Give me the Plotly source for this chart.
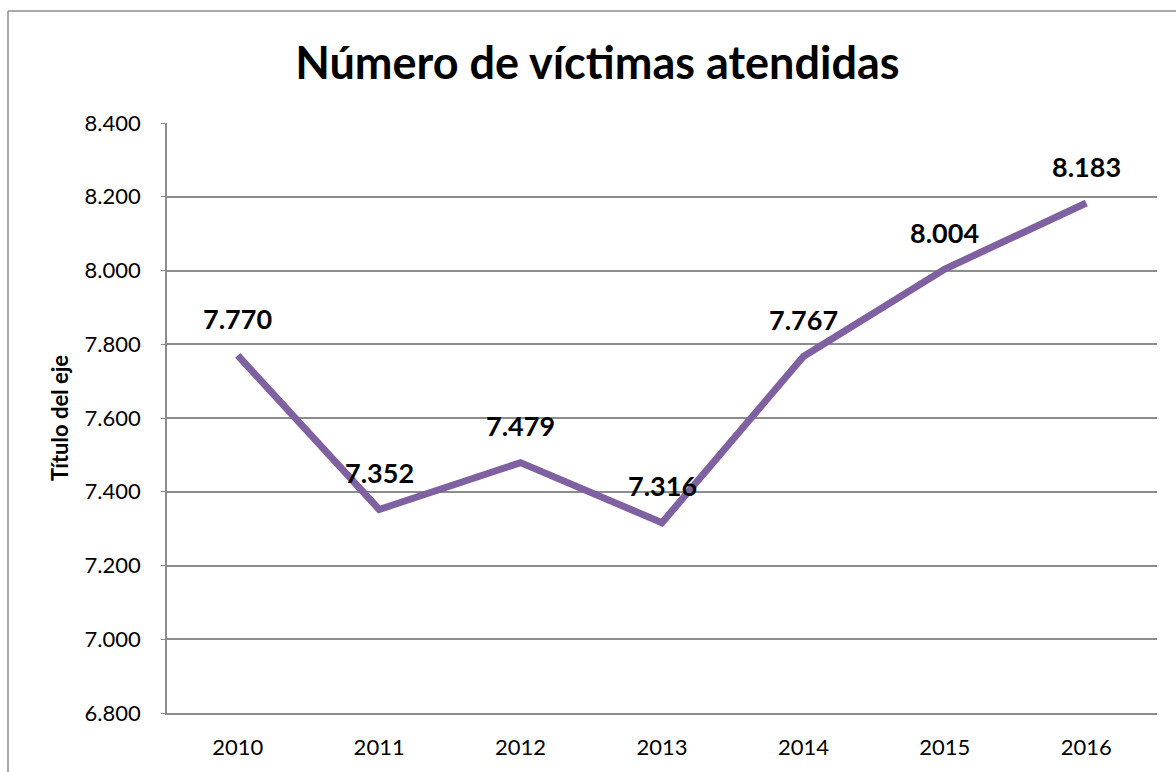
import plotly.graph_objects as go

years = ["2010", "2011", "2012", "2013", "2014", "2015", "2016"]
victims = [7770, 7352, 7479, 7316, 7767, 8004, 8183]
y_ticks = [6800, 7000, 7200, 7400, 7600, 7800, 8000, 8200, 8400]

LINE = "#7F60A0"
GRID = "#8C8C8C"
FONT = "Lato, 'Open Sans', sans-serif"

fig = go.Figure()
fig.add_trace(go.Scatter(
    x=years, y=victims, mode="lines",
    line=dict(color=LINE, width=7),
    hoverinfo="skip", showlegend=False,
))

def fmt(v):
    return f"{v:,}".replace(",", ".")

for i, v in enumerate(victims):
    fig.add_annotation(
        x=i, y=v, xref="x", yref="y", text=f"<b>{fmt(v)}</b>",
        showarrow=False, yshift=37,
        font=dict(family=FONT, size=27, color="#000000"),
    )

L, R, T, B = 167, 19, 123, 59
W, H = 1176, 772
pw, ph = W - L - R, H - T - B
bx = (8 - L) / pw
by = (ph + T - 11) / ph

fig.add_shape(type="line", xref="paper", yref="paper", x0=bx, x1=bx, y0=-0.2, y1=by,
              line=dict(color=GRID, width=1.5))
fig.add_shape(type="line", xref="paper", yref="paper", x0=bx, x1=1.1, y0=by, y1=by,
              line=dict(color=GRID, width=1.5))

fig.update_layout(
    width=W, height=H,
    margin=dict(l=L, r=R, t=T, b=B),
    paper_bgcolor="white", plot_bgcolor="white",
    separators=",.",
    title=dict(text="<b>Número de víctimas atendidas</b>", x=0.508, xanchor="center",
               y=1 - 63 / H, yanchor="middle",
               font=dict(family=FONT, size=45, color="#000000")),
    font=dict(family=FONT, color="#000000"),
)
fig.update_xaxes(
    type="category", range=[-0.5, 6.5],
    showline=True, linecolor=GRID, linewidth=1.5,
    showgrid=False, ticks="", tickfont=dict(size=22, family=FONT),
    ticklabelstandoff=14,
)
fig.update_yaxes(
    range=[6800, 8400], tickvals=y_ticks, tickformat=",.0f",
    showline=True, linecolor=GRID, linewidth=1.5,
    showgrid=True, gridcolor=GRID, gridwidth=1.5,
    ticks="outside", ticklen=4, tickcolor=GRID,
    tickfont=dict(size=22, family=FONT),
    ticklabelstandoff=16,
    zeroline=False,
    title=dict(text="<b>Título del eje</b>", font=dict(size=22, family=FONT), standoff=10),
)

fig.write_html("out.html")
